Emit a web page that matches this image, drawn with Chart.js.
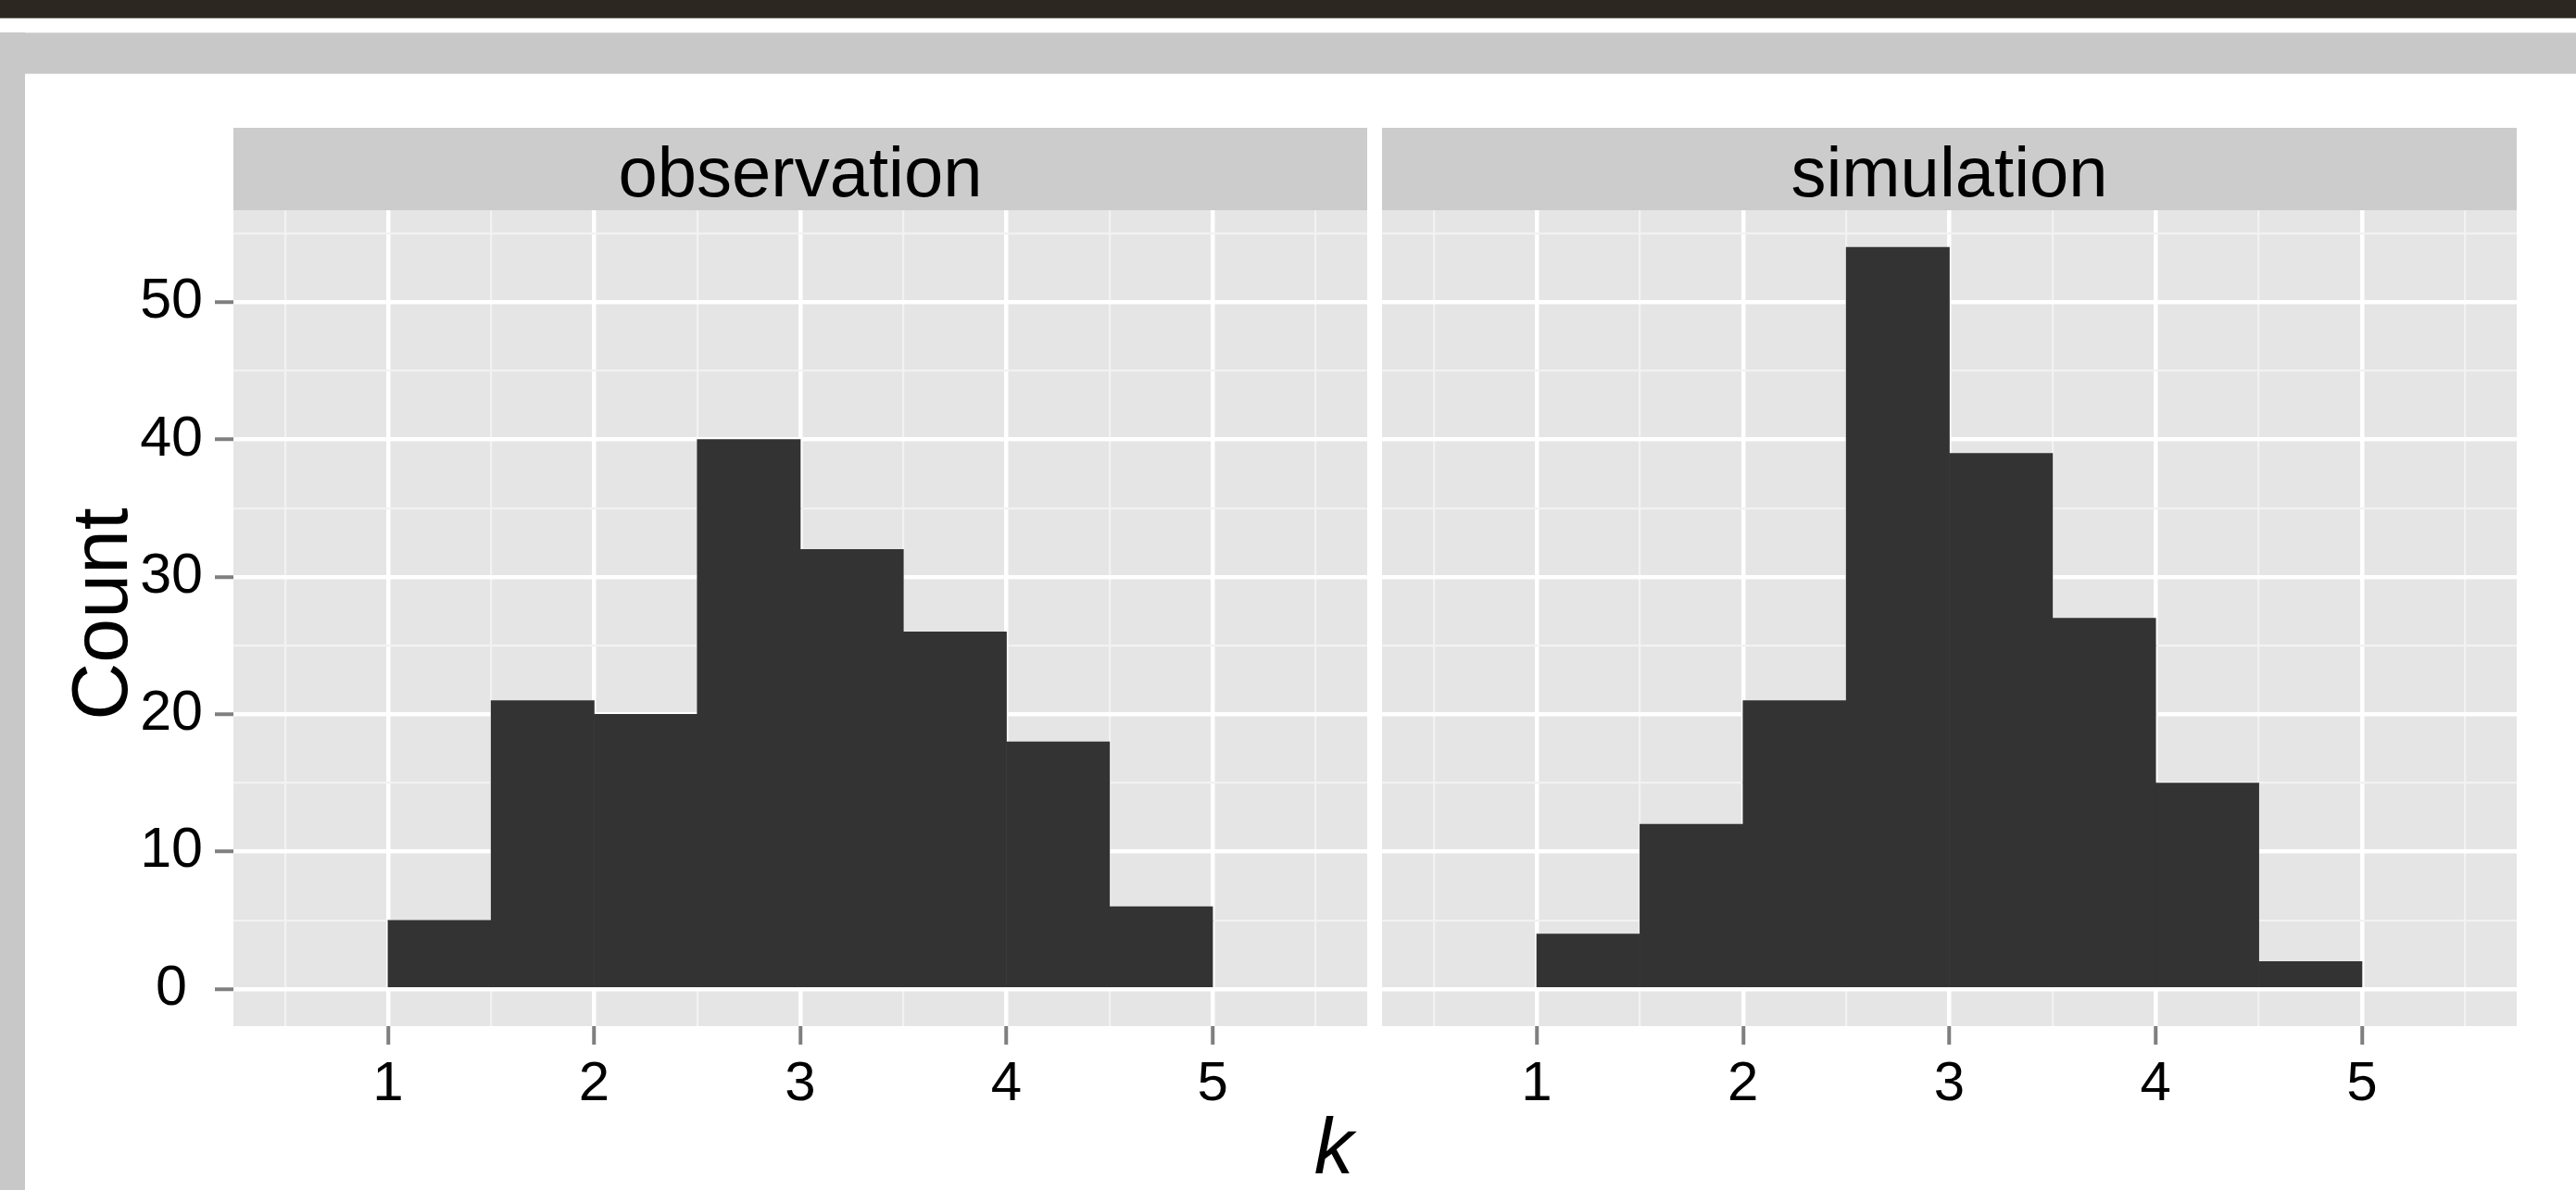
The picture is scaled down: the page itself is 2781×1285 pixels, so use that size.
<!DOCTYPE html>
<html>
<head>
<meta charset="utf-8">
<title>Count of k: observation vs simulation</title>
<script src="https://cdn.jsdelivr.net/npm/chart.js@4"></script>
<style>
  html, body { margin: 0; padding: 0; background: #ffffff; }
  #page { position: relative; width: 2781px; height: 1285px; overflow: hidden; font-family: "Liberation Sans", Arial, sans-serif; }
  .band-dark { position: absolute; left: 0; top: 0; width: 2781px; height: 19px; background: #2d2721; border-bottom: 1px solid #7a7772; }
  .band-grey { position: absolute; left: 0; top: 35px; width: 2781px; height: 45px; background: #c8c8c8; border-top: 1px solid #dadada; border-bottom: 1px solid #dadada; box-sizing: border-box; }
  .border-left { position: absolute; left: 0; top: 35px; width: 27px; height: 1250px; background: #c8c8c8; }
  .strip { position: absolute; top: 138px; height: 89px; background: #cccccc; color: #000; font-size: 76px; line-height: 76px; text-align: center; }
  .strip span { position: relative; top: 10px; }
  canvas { position: absolute; top: 0; }
  #y-title { position: absolute; width: 400px; height: 86px; left: -93px; top: 620px; font-size: 86px; line-height: 86px; text-align: center; transform: rotate(-90deg); }
  #x-title { position: absolute; width: 400px; left: 1240px; top: 1195px; font-size: 85px; line-height: 85px; text-align: center; font-style: italic; }
</style>
</head>
<body>
<div id="page">
  <div class="band-dark"></div>
  <div class="band-grey"></div>
  <div class="border-left"></div>
  <canvas id="chart-observation" width="1484" height="1285" style="left:0px"></canvas>
  <canvas id="chart-simulation" width="1297" height="1285" style="left:1484px"></canvas>
  <div class="strip" style="left:252px;width:1224px"><span>observation</span></div>
  <div class="strip" style="left:1492px;width:1225px"><span>simulation</span></div>
  <div id="y-title">Count</div>
  <div id="x-title">k</div>
</div>
<script>
// Histogrammes de k (bins de 0.5), une facette par source
const binCenters = [1.25, 1.75, 2.25, 2.75, 3.25, 3.75, 4.25, 4.75];
const observationCounts = [5, 21, 20, 40, 32, 26, 18, 6];
const simulationCounts = [4, 12, 21, 54, 39, 27, 15, 2];
const xTickValues = [0.5, 1, 1.5, 2, 2.5, 3, 3.5, 4, 4.5, 5, 5.5];
const xLabelValues = [1, 2, 3, 4, 5];
const yTickValues = [0, 5, 10, 15, 20, 25, 30, 35, 40, 45, 50, 55];
const yLabelValues = [0, 10, 20, 30, 40, 50];
const xRange = [0.25, 5.75];
const yRange = [-2.7, 56.7];

(function () {
  "use strict";

  const FONT = "'Liberation Sans', Arial, sans-serif";
  const PANEL_BG = "#e5e5e5";
  const BAR_COLOR = "#333333";
  const TICK_COLOR = "#7f7f7f";

  const panelBackground = {
    id: "panelBackground",
    beforeDraw(chart) {
      const { ctx, chartArea } = chart;
      ctx.save();
      ctx.fillStyle = PANEL_BG;
      ctx.fillRect(chartArea.left, chartArea.top, chartArea.width, chartArea.height);
      ctx.restore();
    },
  };

  function isMajor(list, value) {
    return list.some((v) => Math.abs(v - value) < 1e-9);
  }

  // style du quadrillage : lignes majeures blanches, mineures gris clair
  function gridStyle(list, major, minor) {
    return (c) => (c.tick && isMajor(list, c.tick.value) ? major : minor);
  }

  function buildChart(canvasId, counts, withYAxis, padding) {
    const canvas = document.getElementById(canvasId);
    return new Chart(canvas.getContext("2d"), {
      type: "bar",
      data: {
        datasets: [
          {
            data: binCenters.map((x, i) => ({ x: x, y: counts[i] })),
            backgroundColor: BAR_COLOR,
            borderWidth: 0,
            barPercentage: 1,
            categoryPercentage: 1,
          },
        ],
      },
      options: {
        responsive: false,
        animation: false,
        devicePixelRatio: 1,
        layout: { padding: padding, autoPadding: false },
        plugins: { legend: { display: false }, tooltip: { enabled: false } },
        scales: {
          x: {
            type: "linear",
            offset: false,
            min: xRange[0],
            max: xRange[1],
            afterBuildTicks: (axis) => {
              axis.ticks = xTickValues.map((v) => ({ value: v }));
            },
            afterFit: (axis) => {
              axis.height = 90;
            },
            border: { display: false, width: 0 },
            grid: {
              offset: false,
              color: gridStyle(xLabelValues, "#ffffff", "#f2f2f2"),
              lineWidth: gridStyle(xLabelValues, 4.5, 2.2),
              tickColor: gridStyle(xLabelValues, TICK_COLOR, "rgba(0,0,0,0)"),
              tickWidth: 4,
              tickLength: 20,
            },
            ticks: {
              autoSkip: false,
              maxRotation: 0,
              padding: 7,
              color: "#000000",
              font: { family: FONT, size: 60 },
              callback: (v) => (isMajor(xLabelValues, v) ? String(v) : ""),
            },
          },
          y: {
            type: "linear",
            min: yRange[0],
            max: yRange[1],
            afterBuildTicks: (axis) => {
              axis.ticks = yTickValues.map((v) => ({ value: v }));
            },
            afterFit: (axis) => {
              axis.width = withYAxis ? 225 : 0;
            },
            border: { display: false, width: 0 },
            grid: {
              offset: false,
              color: gridStyle(yLabelValues, "#ffffff", "#f2f2f2"),
              lineWidth: gridStyle(yLabelValues, 4.5, 2.2),
              tickColor: gridStyle(yLabelValues, TICK_COLOR, "rgba(0,0,0,0)"),
              tickWidth: 4,
              tickLength: 20,
              drawTicks: withYAxis,
            },
            ticks: {
              display: withYAxis,
              autoSkip: false,
              crossAlign: "center",
              padding: 13,
              color: "#000000",
              font: { family: FONT, size: 61 },
              callback: (v) => (isMajor(yLabelValues, v) ? String(v) : ""),
            },
          },
        },
      },
      plugins: [panelBackground],
    });
  }

  buildChart("chart-observation", observationCounts, true, { top: 227, left: 27, right: 8, bottom: 87 });
  buildChart("chart-simulation", simulationCounts, false, { top: 227, left: 8, right: 64, bottom: 87 });
})();
</script>
</body>
</html>
